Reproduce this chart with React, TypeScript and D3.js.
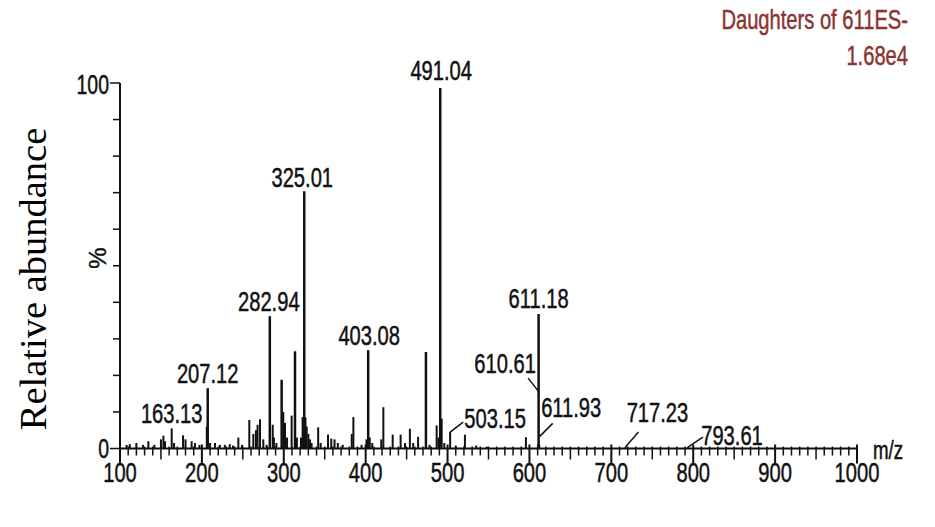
import React from 'react';
import * as d3 from 'd3';

// peak list: m/z and relative abundance (%)
const peakMz = [
  108, 112, 120, 128, 134.6, 142, 150, 153, 155, 163.13, 166, 177, 180, 187.5, 191.6, 197,
  206, 207.12, 210, 216, 222, 228, 234, 238, 244.5, 249, 257.9, 262.8, 266, 268, 271, 275, 279,
  282.94, 286.5, 288, 291, 297.4, 299.4, 301.5, 304, 309.6, 313.7, 316, 321, 323, 325.01, 326.5,
  328, 330, 332, 334, 342, 345, 354, 358, 362, 366, 372, 383, 385, 395, 401, 403.08, 405, 408,
  419, 421.6, 433, 442.7, 448, 454, 458, 464, 473.6, 478, 486.7, 489, 491.04, 492.8, 496,
  503.15, 510, 521.2, 535, 548, 595.7, 610.61, 611.18, 611.93, 717.23, 793.61,
];
const peakPct = [
  1, 1.2, 1.5, 1, 2, 1, 2.5, 3.5, 2, 5.5, 1.5, 3.6, 2.5, 2, 1.5, 1,
  6, 16.5, 1.5, 1.5, 1, 1, 1.2, 0.8, 3, 1, 7.8, 4, 5, 6.5, 8, 2.5, 1,
  36.2, 6.5, 3, 1.5, 18.8, 10, 7, 3, 9, 26.6, 3, 3, 8.6, 70.4, 8.5,
  6, 4, 2.5, 1.5, 5.8, 1.5, 3.8, 2.7, 2.5, 1.5, 1, 4, 8.6, 1, 2.5, 26.9, 3, 1.5,
  2.5, 11.3, 3.8, 3.8, 1.5, 5.4, 1.5, 3.2, 26.4, 1, 6.3, 3, 98.6, 8.2, 1.5,
  4.5, 0.8, 3.8, 0.8, 0.5, 3.1, 1.2, 36.8, 1.0, 0.4, 0.4,
];

const labelledMz = [163.13, 207.12, 282.94, 325.01, 403.08, 491.04, 503.15, 610.61, 611.18, 611.93, 717.23, 793.61];
const labelledText = ['163.13', '207.12', '282.94', '325.01', '403.08', '491.04', '503.15', '610.61', '611.18', '611.93', '717.23', '793.61'];

const xTickLabels = [100, 200, 300, 400, 500, 600, 700, 800, 900, 1000];
const yTickLabels = [0, 100];
const titleLines = ['Daughters of 611ES-', '1.68e4'];
const xAxisTitle = 'm/z';
const yAxisUnit = '%';
const yAxisTitle = 'Relative abundance';

// label placement relative to the top of each peak, leaders as [x1, y1, x2, y2]
const labelLayout: Record<string, { dx: number; dy: number; leader?: number[] }> = {
  '163.13': { dx: 0, dy: -5 },
  '207.12': { dx: 0, dy: -5 },
  '282.94': { dx: -1, dy: -5 },
  '325.01': { dx: -2, dy: -4 },
  '403.08': { dx: 1, dy: -5 },
  '491.04': { dx: 1, dy: -8 },
  '503.15': { dx: 45, dy: -4, leader: [0, 0, 13, -10] },
  '610.61': { dx: -33, dy: -71, leader: [-10, -66, 1, -52] },
  '611.18': { dx: 0, dy: -6 },
  '611.93': { dx: 32, dy: -28, leader: [0, -8, 13.5, -21.5] },
  '717.23': { dx: 32, dy: -25, leader: [0, 0, 13, -15] },
  '793.61': { dx: 44, dy: -2, leader: [0, 0, 15, -10] },
};

const W = 935;
const H = 527;
const SANS = 'Liberation Sans, Arial, sans-serif';
const SQUEEZE = 0.72;

const x = d3.scaleLinear().domain([100, 1000]).range([120, 857]);
const y = d3.scaleLinear().domain([0, 100]).range([448.5, 83]);

const Narrow = ({ px, py, anchor = 'middle', size = 28, fill = '#111', children }: any) => (
  <g transform={`translate(${px},${py}) scale(${SQUEEZE},1)`}>
    <text textAnchor={anchor} fontFamily={SANS} fontSize={size} fill={fill}
      stroke={fill} strokeWidth={0.5}>
      {children}
    </text>
  </g>
);

export default function App() {
  const y0 = y(0);
  const minorTicks = d3.range(100, 1001, 10);
  const yTicks = d3.range(0, 101, 10);

  return (
    <svg width={W} height={H} style={{ position: 'absolute', left: 0, top: 0, background: '#fff' }}>
      <rect width={W} height={H} fill="#fff" />

      {/* title */}
      <Narrow px={908} py={29} anchor="end" fill="#8a3434">{titleLines[0]}</Narrow>
      <Narrow px={908} py={65} anchor="end" fill="#8a3434">{titleLines[1]}</Narrow>

      {/* peaks */}
      <g stroke="#111">
        {peakMz.map((m, i) => (
          <line key={i} x1={x(m)} x2={x(m)} y1={y0} y2={y(peakPct[i])}
            strokeWidth={peakPct[i] > 15 ? 2.5 : 2} />
        ))}
      </g>

      {/* peak labels */}
      {labelledMz.map((m, i) => {
        const t = labelledText[i];
        const lay = labelLayout[t];
        const px = x(m);
        const py = y(peakPct[peakMz.indexOf(m)]);
        return (
          <g key={t}>
            {lay.leader && (
              <line
                x1={px + lay.leader[0]} y1={py + lay.leader[1]}
                x2={px + lay.leader[2]} y2={py + lay.leader[3]}
                stroke="#111" strokeWidth={1.5}
              />
            )}
            <Narrow px={px + lay.dx} py={py + lay.dy}>{t}</Narrow>
          </g>
        );
      })}

      {/* x axis */}
      <g stroke="#111">
        <line x1={x(100)} x2={x(1000)} y1={y0} y2={y0} strokeWidth={2} />
        {minorTicks.map((v) => {
          const major = v % 100 === 0;
          const mid = v % 50 === 0;
          return (
            <line key={v} x1={x(v)} x2={x(v)}
              y1={y0 - (major ? 4 : 2)} y2={y0 + (major ? 15 : mid ? 11 : 7)}
              strokeWidth={major ? 2 : 1.5} />
          );
        })}
      </g>
      {xTickLabels.map((v) => (
        <Narrow key={v} px={x(v)} py={482}>{v}</Narrow>
      ))}
      <Narrow px={873} py={459} anchor="start" size={26}>{xAxisTitle}</Narrow>

      {/* y axis */}
      <g stroke="#111">
        <line x1={x(100)} x2={x(100)} y1={y(100)} y2={y0} strokeWidth={2} />
        {yTicks.map((v) => (
          <line key={v} x1={x(100) - (v === 0 || v === 100 ? 10 : 7)} x2={x(100)} y1={y(v)} y2={y(v)} strokeWidth={1.5} />
        ))}
      </g>
      {yTickLabels.map((v) => (
        <Narrow key={v} px={109} py={y(v) + (v === 0 ? 9 : 11)} anchor="end" size={27}>{v}</Narrow>
      ))}
      <text transform={`translate(106,258) rotate(-90)`} textAnchor="middle" fontFamily={SANS} fontSize={24}
        fill="#111" stroke="#111" strokeWidth={0.4}>
        {yAxisUnit}
      </text>
      <text transform={`translate(46,279) rotate(-90)`} textAnchor="middle"
        fontFamily="Liberation Serif, Times New Roman, serif" fontSize={38.5} fill="#000">
        {yAxisTitle}
      </text>
    </svg>
  );
}
